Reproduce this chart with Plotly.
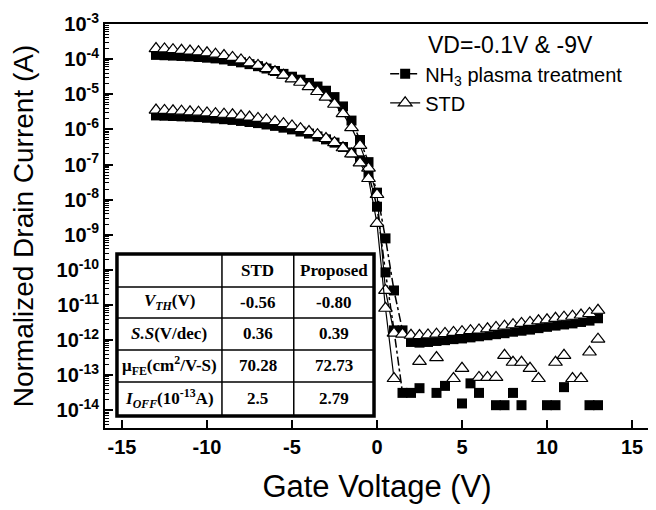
import plotly.graph_objects as go

# ---------------- data ----------------
vg = [-13, -12.5, -12, -11.5, -11, -10.5, -10, -9.5, -9, -8.5,
      -8, -7.5, -7, -6.5, -6, -5.5, -5, -4.5, -4, -3.5,
      -3, -2.5, -2, -1.5, -1, -0.5, 0, 0.5, 1, 1.5,
      2, 2.5, 3, 3.5, 4, 4.5, 5, 5.5, 6, 6.5,
      7, 7.5, 8, 8.5, 9, 9.5, 10, 10.5, 11, 11.5,
      12, 12.5, 13]

# NH3 plasma treatment, VD = -9 V
nh3_vd9 = [1.32e-4, 1.29e-4, 1.26e-4, 1.23e-4, 1.20e-4, 1.15e-4, 1.10e-4, 1.05e-4, 9.8e-5, 8.9e-5,
           8.1e-5, 7.2e-5, 6.3e-5, 5.4e-5, 4.6e-5, 3.8e-5, 3.16e-5, 2.6e-5, 2.1e-5, 1.66e-5,
           1.26e-5, 8.3e-6, 4.5e-6, 1.78e-6, 5.0e-7, 1.17e-7, 1.58e-8, 7.9e-10, 2.6e-11, 1.9e-12,
           8.9e-13, 8.5e-13, 8.9e-13, 9.5e-13, 1.0e-12, 1.07e-12, 1.12e-12, 1.2e-12, 1.29e-12, 1.38e-12,
           1.48e-12, 1.58e-12, 1.74e-12, 1.86e-12, 2.0e-12, 2.2e-12, 2.4e-12, 2.6e-12, 2.8e-12, 3.0e-12,
           3.3e-12, 3.6e-12, 4.2e-12]

# NH3 plasma treatment, VD = -0.1 V
nh3_vd01 = [2.5e-6, 2.45e-6, 2.4e-6, 2.35e-6, 2.3e-6, 2.24e-6, 2.14e-6, 2.05e-6, 1.95e-6, 1.86e-6,
            1.74e-6, 1.62e-6, 1.51e-6, 1.38e-6, 1.26e-6, 1.12e-6, 1.0e-6, 8.7e-7, 7.6e-7, 6.3e-7,
            5.2e-7, 4.2e-7, 3.16e-7, 2.2e-7, 1.32e-7, 5.6e-8, 6.3e-9, 8.5e-11, 1.9e-12, 3.16e-14,
            3.16e-14, 4.3e-14, None, 3.16e-14, 5.0e-14, None, 1.58e-14, 5.9e-14, 3.16e-14, None,
            1.41e-14, 1.41e-14, 3.16e-14, 1.41e-14, None, None, 1.41e-14, 1.41e-14, 4.6e-14, None,
            None, 1.41e-14, 1.41e-14]

# STD, VD = -9 V
std_vd9 = [2.0e-4, 1.95e-4, 1.86e-4, 1.78e-4, 1.70e-4, 1.62e-4, 1.51e-4, 1.38e-4, 1.26e-4, 1.12e-4,
           9.5e-5, 7.9e-5, 6.6e-5, 5.4e-5, 4.4e-5, 3.5e-5, 2.75e-5, 2.2e-5, 1.66e-5, 1.2e-5,
           8.3e-6, 5.2e-6, 2.8e-6, 1.12e-6, 3.5e-7, 7.9e-8, 1.4e-8, 2.6e-11, 1.58e-12, 1.48e-12,
           1.38e-12, 1.35e-12, 1.41e-12, 1.48e-12, 1.55e-12, 1.66e-12, 1.74e-12, 1.86e-12, 1.95e-12, 2.1e-12,
           2.3e-12, 2.5e-12, 2.75e-12, 3.0e-12, 3.2e-12, 3.55e-12, 3.8e-12, 4.2e-12, 4.5e-12, 4.8e-12,
           5.2e-12, 5.75e-12, 7.1e-12]

# STD, VD = -0.1 V
std_vd01 = [3.55e-6, 3.47e-6, 3.39e-6, 3.3e-6, 3.16e-6, 3.1e-6, 2.95e-6, 2.8e-6, 2.7e-6, 2.6e-6,
            2.4e-6, 2.25e-6, 2.05e-6, 1.86e-6, 1.66e-6, 1.45e-6, 1.26e-6, 1.05e-6, 8.7e-7, 7.1e-7,
            5.5e-7, 4.2e-7, 3.0e-7, 2.0e-7, 1.12e-7, 4.0e-8, 2.1e-9, 8.1e-12, 8.1e-14, None,
            None, 2.5e-13, None, 3.2e-13, None, 8.1e-14, 1.58e-13, None, 8.7e-14, 8.7e-14,
            8.7e-14, 3.7e-13, 2.35e-13, 2.35e-13, 1.58e-13, 8.1e-14, None, 2.35e-13, 3.7e-13, 8.1e-14,
            8.1e-14, 4.6e-13, 1.07e-12]

# index where the VD=-0.1V curves enter the noisy off-state floor (plotted as markers only)
off_start = 30

x_tickvals = [-15, -10, -5, 0, 5, 10, 15]
x_ticktext = ["-15", "-10", "-5", "0", "5", "10", "15"]
y_tickvals = [1e-3, 1e-4, 1e-5, 1e-6, 1e-7, 1e-8, 1e-9, 1e-10, 1e-11, 1e-12, 1e-13, 1e-14]
y_ticktext = ["10<sup>-3</sup>", "10<sup>-4</sup>", "10<sup>-5</sup>", "10<sup>-6</sup>",
              "10<sup>-7</sup>", "10<sup>-8</sup>", "10<sup>-9</sup>", "10<sup>-10</sup>",
              "10<sup>-11</sup>", "10<sup>-12</sup>", "10<sup>-13</sup>", "10<sup>-14</sup>"]

table_header = ["", "STD", "Proposed"]
table_params = ["<i>V</i><sub><i>TH</i></sub>(V)", "<i>S.S</i>(V/dec)",
                "μ<sub>FE</sub>(cm<sup>2</sup>/V-S)", "<i>I</i><sub><i>OFF</i></sub>(10<sup>-13</sup>A)"]
table_std = ["-0.56", "0.36", "70.28", "2.5"]
table_proposed = ["-0.80", "0.39", "72.73", "2.79"]

# ---------------- figure ----------------
sq_marker = dict(symbol="square", size=10, color="black", line=dict(color="black", width=0))
tri_marker = dict(symbol="triangle-up", size=12, color="white", line=dict(color="black", width=1.2))
nh3_line = dict(color="black", width=1.5, dash="dashdot")
std_line = dict(color="black", width=1.2)

fig = go.Figure()
fig.add_trace(go.Scatter(x=vg, y=nh3_vd9, mode="lines+markers", name="NH<sub>3</sub> plasma treatment",
                         legendgroup="nh3", marker=sq_marker, line=nh3_line))
fig.add_trace(go.Scatter(x=vg[:off_start], y=nh3_vd01[:off_start], mode="lines+markers",
                         legendgroup="nh3", showlegend=False, marker=sq_marker, line=nh3_line))
fig.add_trace(go.Scatter(x=vg[off_start:], y=nh3_vd01[off_start:], mode="markers",
                         legendgroup="nh3", showlegend=False, marker=sq_marker))
fig.add_trace(go.Scatter(x=vg, y=std_vd9, mode="lines+markers", name="STD",
                         legendgroup="std", marker=tri_marker, line=std_line))
fig.add_trace(go.Scatter(x=vg[:off_start], y=std_vd01[:off_start], mode="lines+markers",
                         legendgroup="std", showlegend=False, marker=tri_marker, line=std_line))
fig.add_trace(go.Scatter(x=vg[off_start:], y=std_vd01[off_start:], mode="markers",
                         legendgroup="std", showlegend=False, marker=tri_marker))

# ---------------- inset table (drawn with shapes + annotations) ----------------
tx = [0.022, 0.215, 0.347, 0.4945]                         # column edges (paper)
ty = [0.4307, 0.3490, 0.2723, 0.1931, 0.1139, 0.0297]      # row edges (paper), top to bottom
fig.add_shape(type="rect", xref="paper", yref="paper", x0=tx[0], x1=tx[-1], y0=ty[-1], y1=ty[0],
              fillcolor="white", line=dict(width=0), layer="above")
for xe in tx[1:-1]:
    fig.add_shape(type="line", xref="paper", yref="paper", x0=xe, x1=xe, y0=ty[-1], y1=ty[0],
                  line=dict(color="black", width=1.5), layer="above")
for ye in ty[1:-1]:
    fig.add_shape(type="line", xref="paper", yref="paper", x0=tx[0], x1=tx[-1], y0=ye, y1=ye,
                  line=dict(color="black", width=1.5), layer="above")
fig.add_shape(type="rect", xref="paper", yref="paper", x0=tx[0], x1=tx[-1], y0=ty[-1], y1=ty[0],
              line=dict(color="black", width=3.5), layer="above")

cell_font = dict(family="Liberation Serif, Times New Roman, serif", size=17, color="black")
table_cols = [[table_header[0]] + table_params,
              [table_header[1]] + table_std,
              [table_header[2]] + table_proposed]
for ci, col in enumerate(table_cols):
    for ri, txt in enumerate(col):
        if not txt:
            continue
        fig.add_annotation(text="<b>%s</b>" % txt, xref="paper", yref="paper",
                           x=(tx[ci] + tx[ci + 1]) / 2, y=(ty[ri] + ty[ri + 1]) / 2,
                           showarrow=False, xanchor="center", yanchor="middle", font=cell_font)

fig.add_annotation(text="VD=-0.1V & -9V", xref="paper", yref="paper", x=0.746, y=0.948,
                   showarrow=False, xanchor="center", yanchor="middle",
                   font=dict(family="Liberation Sans, Arial, sans-serif", size=23, color="black"))

axis_font = dict(family="Liberation Sans, Arial, sans-serif", size=20, color="black", weight="bold")
title_font = dict(family="Liberation Sans, Arial, sans-serif", size=28, color="black")

# the page body adds an 8 px offset, so the figure is sized/margined to compensate
fig.update_layout(
    width=648, height=502,
    margin=dict(l=97, r=7, t=16, b=82, autoexpand=False),
    paper_bgcolor="white", plot_bgcolor="white",
    showlegend=True,
    legend=dict(x=0.515, y=0.925, xanchor="left", yanchor="top", bgcolor="rgba(0,0,0,0)",
                font=dict(family="Liberation Sans, Arial, sans-serif", size=20, color="black"),
                tracegroupgap=0),
    xaxis=dict(range=[-16, 16], tickmode="array", tickvals=x_tickvals, ticktext=x_ticktext,
               ticks="inside", ticklen=8, tickwidth=1.5, tickcolor="black",
               showline=True, linecolor="black", linewidth=2, mirror=True, automargin=False,
               showgrid=False, zeroline=False, tickfont=axis_font, ticklabelstandoff=0,
               title=dict(text="Gate Voltage (V)", font=dict(title_font, size=31), standoff=18)),
    yaxis=dict(type="log", range=[-14.5, -3], tickmode="array", tickvals=y_tickvals, ticktext=y_ticktext,
               ticks="inside", ticklen=8, tickwidth=1.5, tickcolor="black",
               minor=dict(ticks="inside", ticklen=4, tickwidth=1, tickcolor="black", dtick="D1", showgrid=False),
               showline=True, linecolor="black", linewidth=2, mirror=True, automargin=False,
               showgrid=False, zeroline=False, tickfont=axis_font, ticklabelstandoff=0,
               title=dict(text="Normalized Drain Current (A)", font=title_font, standoff=16)),
)

fig.write_html("out.html")
